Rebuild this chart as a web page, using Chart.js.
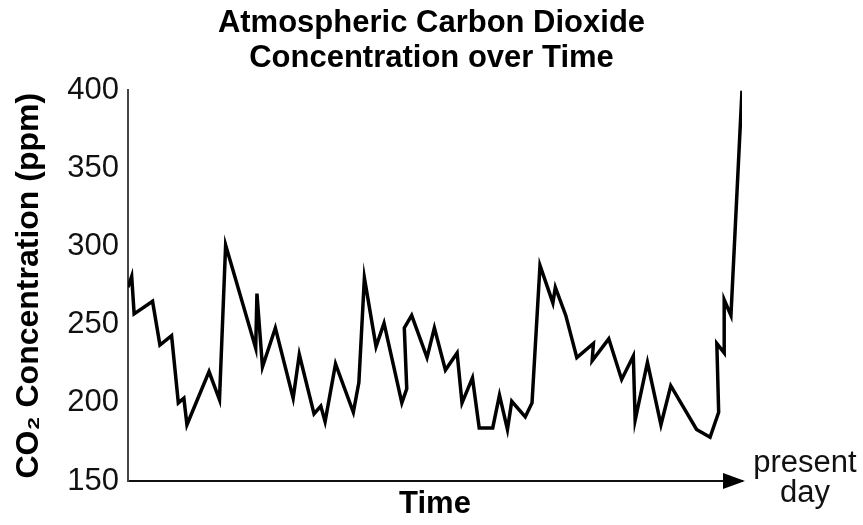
<!DOCTYPE html>
<html>
<head>
<meta charset="utf-8">
<title>Atmospheric Carbon Dioxide Concentration over Time</title>
<script src="https://cdn.jsdelivr.net/npm/chart.js@4/dist/chart.umd.min.js"></script>
<style>
  html, body { margin: 0; padding: 0; background: #fff; }
</style>
</head>
<body>
<canvas id="co2Chart" width="863" height="525"></canvas>
<script>
// Time position along the axis (0 = left edge, 100 = present day)
const timeValues = [
  0, 0.6, 1.0, 4.0, 5.2, 7.1, 8.2, 9.1, 9.6, 13.2,
  14.9, 15.9, 20.8, 21.0, 21.9, 24.0, 26.9, 27.9, 30.3, 31.4,
  32.1, 33.8, 36.7, 37.6, 38.5, 40.4, 41.7, 44.6, 45.4, 45.0,
  46.2, 48.7, 49.9, 51.7, 53.6, 54.4, 56.1, 57.2, 59.4, 60.5,
  61.8, 62.5, 64.7, 65.8, 67.1, 69.2, 69.6, 71.3, 73.1, 75.8,
  75.6, 78.3, 80.4, 82.3, 82.6, 84.6, 86.8, 88.4, 92.6, 94.8,
  96.2, 95.9, 97.1, 97.1, 98.2, 100
];

// CO2 concentration in ppm
const co2Values = [
  274, 281, 257, 265, 237, 243, 200, 203, 186, 220,
  202, 301, 235, 270, 223, 248, 203, 231, 193, 198,
  188, 225, 194, 213, 280, 236, 251, 200, 209, 248,
  256, 229, 248, 221, 232, 200, 216, 184, 184, 205,
  183, 201, 191, 200, 288, 264, 274, 256, 229, 238,
  227, 241, 215, 230, 189, 226, 186, 211, 183, 178,
  194, 238, 232, 266, 256, 400
];

const yTickValues = [150, 200, 250, 300, 350, 400];

const titleLines = ["Atmospheric Carbon Dioxide", "Concentration over Time"];
const yAxisTitle = "CO\u2082 Concentration (ppm)";
const xAxisTitle = "Time";
const endLabelLines = ["present", "day"];

const fontFamily = "'Liberation Sans', Arial, Helvetica, sans-serif";

// Draws the arrow head on the time axis and the "present day" label
const timeArrowPlugin = {
  id: "timeArrow",
  afterDraw(chart) {
    const { ctx, chartArea } = chart;
    const y = chartArea.bottom;
    const tip = chartArea.right + 3;
    ctx.save();
    ctx.fillStyle = "#000";
    ctx.beginPath();
    ctx.moveTo(tip - 22, y - 8);
    ctx.lineTo(tip, y);
    ctx.lineTo(tip - 22, y + 8);
    ctx.closePath();
    ctx.fill();

    ctx.font = "31px " + fontFamily;
    ctx.fillStyle = "#111";
    ctx.textAlign = "center";
    ctx.textBaseline = "middle";
    endLabelLines.forEach((line, i) => {
      ctx.fillText(line, chartArea.right + 63, y - 18 + i * 30);
    });
    ctx.restore();
  }
};

const points = timeValues.map((t, i) => ({ x: t, y: co2Values[i] }));

new Chart(document.getElementById("co2Chart"), {
  type: "line",
  data: {
    datasets: [{
      label: "CO2",
      data: points,
      borderColor: "#000",
      borderWidth: 3.5,
      borderJoinStyle: "miter",
      pointRadius: 0,
      tension: 0,
      fill: false
    }]
  },
  options: {
    responsive: false,
    animation: false,
    devicePixelRatio: 1,
    layout: { padding: 0 },
    plugins: {
      legend: { display: false },
      tooltip: { enabled: false },
      title: {
        display: true,
        text: titleLines,
        color: "#000",
        font: { family: fontFamily, size: 31, weight: "bold", lineHeight: 1.12 },
        padding: { top: 6, bottom: 15 }
      }
    },
    scales: {
      x: {
        type: "linear",
        min: 0,
        max: 100,
        ticks: { display: false },
        grid: { display: false, drawTicks: false },
        border: { display: true, color: "#111", width: 2 },
        title: {
          display: true,
          text: xAxisTitle,
          color: "#000",
          font: { family: fontFamily, size: 31, weight: "bold" },
          padding: { top: 0, bottom: 2 }
        },
        afterFit(scale) { scale.height = 44; }
      },
      y: {
        min: 150,
        max: 400,
        afterBuildTicks(scale) {
          scale.ticks = yTickValues.map(v => ({ value: v }));
        },
        ticks: {
          color: "#111",
          padding: 9,
          font: { family: fontFamily, size: 31 }
        },
        grid: { display: false, drawTicks: false },
        border: { display: true, color: "#444", width: 2 },
        title: {
          display: true,
          text: yAxisTitle,
          color: "#000",
          font: { family: fontFamily, size: 32, weight: "bold" },
          padding: { top: 10, bottom: 0 }
        },
        afterFit(scale) { scale.width = 128; }
      },
      // empty right-hand axis reserving room for the "present day" label
      yRight: {
        position: "right",
        min: 150,
        max: 400,
        ticks: { display: false },
        grid: { display: false, drawTicks: false },
        border: { display: false },
        afterFit(scale) { scale.width = 121; }
      }
    }
  },
  plugins: [timeArrowPlugin]
});
</script>
</body>
</html>
